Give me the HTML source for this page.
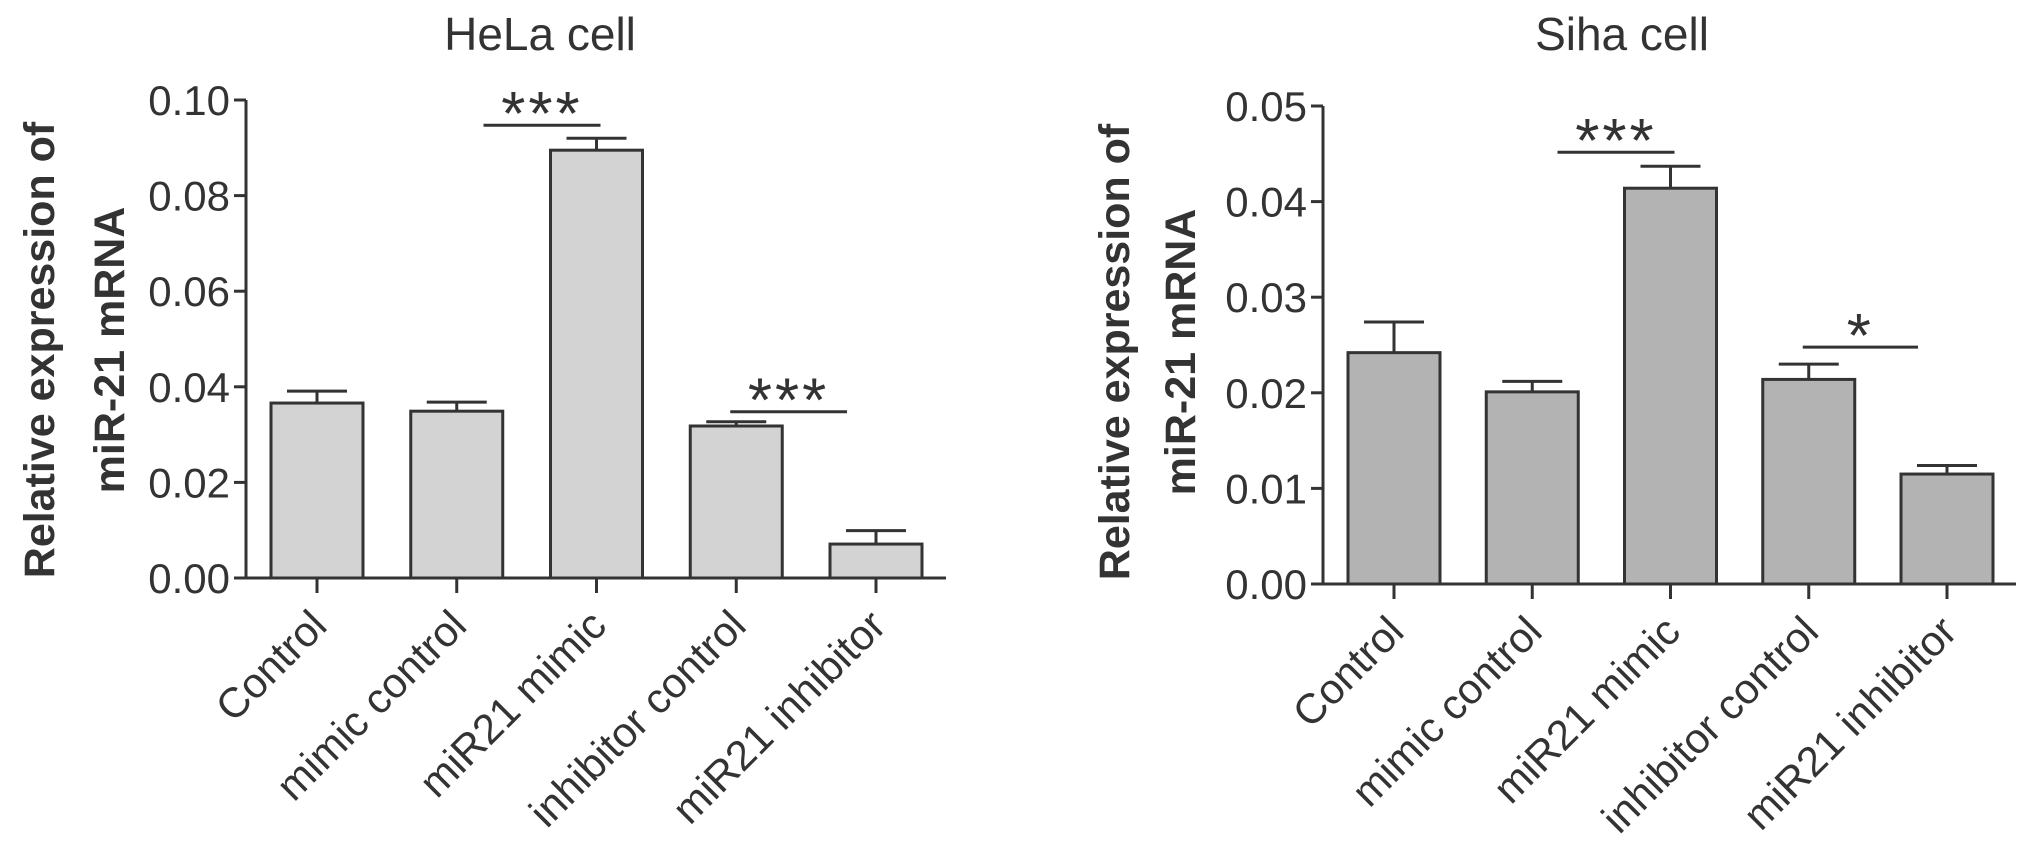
<!DOCTYPE html>
<html><head><meta charset="utf-8"><style>
html,body{margin:0;padding:0;background:#fff;}
svg{display:block;font-family:"Liberation Sans",Arial,sans-serif;}
</style></head><body>
<svg id="c" width="2031" height="862" viewBox="0 0 2031 862" xmlns="http://www.w3.org/2000/svg"></svg>
<script>
const categories = ["Control","mimic control","miR21 mimic","inhibitor control","miR21 inhibitor"];
const helaValues = [0.0366,0.0349,0.0895,0.0318,0.0071];
const helaErrors = [0.0391,0.0368,0.0920,0.0327,0.0099];
const helaTicks = ["0.00","0.02","0.04","0.06","0.08","0.10"];
const sihaValues = [0.0242,0.0201,0.0414,0.0214,0.0115];
const sihaErrors = [0.0274,0.0212,0.0437,0.0230,0.0124];
const sihaTicks = ["0.00","0.01","0.02","0.03","0.04","0.05"];
const helaSig = [[2,2,"***"],[3,4,"***"]];
const sihaSig = [[2,2,"***"],[3,4,"*"]];

const NS="http://www.w3.org/2000/svg";
const svg=document.getElementById('c');
const INK="#333";
function mk(tag,attrs,parent){const e=document.createElementNS(NS,tag);for(const k in attrs)e.setAttribute(k,attrs[k]);(parent||svg).appendChild(e);return e;}

function chart(cfg){
  const g=mk('g',{});
  
  
  const yMax=parseFloat(cfg.ticks[cfg.ticks.length-1]);
  const y=v=>cfg.y0-(v/yMax)*(cfg.y0-cfg.y1);
  const x=i=>cfg.xFirst+i*cfg.pitch;
  const t=mk('text',{x:cfg.titleX,y:50,'text-anchor':'middle','font-size':46,fill:INK},g);
  t.textContent=cfg.title;
  
  
  const yt=mk('text',{transform:`translate(${cfg.ytX},${cfg.ytY}) rotate(-90)`,'text-anchor':'middle','font-size':43,'font-weight':'bold',fill:INK},g);
  
  
  const l1=mk('tspan',{x:0,dy:0},yt);l1.textContent="Relative expression of";
  const l2=mk('tspan',{x:0,dy:cfg.ytDy},yt);l2.textContent="miR-21 mRNA";
  cfg.values.forEach((v,i)=>{
    const cx=x(i),w=92;
    const ex=mk('line',{x1:cx,x2:cx,y1:y(v),y2:y(cfg.errors[i]),stroke:INK,'stroke-width':3},g);
    
    
    const cap=mk('line',{x1:cx-30,x2:cx+30,y1:y(cfg.errors[i]),y2:y(cfg.errors[i]),stroke:INK,'stroke-width':3},g);
    
    
    const r=mk('rect',{x:cx-w/2,y:y(v),width:w,height:cfg.y0-y(v),fill:cfg.fill,stroke:INK,'stroke-width':3},g);
    
    
    const tk=mk('line',{x1:cx,x2:cx,y1:cfg.y0,y2:cfg.y0+15,stroke:INK,'stroke-width':3},g);
    
    
    const lb=mk('text',{transform:`translate(${cx+12},${cfg.y0+50}) rotate(-45)`,'text-anchor':'end','font-size':42,fill:INK},g);
    lb.textContent=categories[i];
    
    
  });
  const ya=mk('line',{x1:cfg.ax,x2:cfg.ax,y1:cfg.y1,y2:cfg.y0,stroke:INK,'stroke-width':3},g);
  
  
  const xa=mk('line',{x1:cfg.ax-12,x2:cfg.axEnd,y1:cfg.y0,y2:cfg.y0,stroke:INK,'stroke-width':3},g);
  
  
  cfg.ticks.forEach(s=>{
    const v=parseFloat(s),yy=y(v);
    const tl=mk('line',{x1:cfg.ax-12,x2:cfg.ax,y1:yy,y2:yy,stroke:INK,'stroke-width':3},g);
    
    
    const tx=mk('text',{x:cfg.ax-16,y:yy+15,'text-anchor':'end','font-size':42,fill:INK},g);
    tx.textContent=s;
    
    
  });
  cfg.sig.forEach(([a,b,s],k)=>{
    const top=Math.max(cfg.errors[a],cfg.errors[b]);
    const yy=y(top)-cfg.sigGap[k];
    const x1=(a===b)?x(a)-113:x(a)-6, x2=(a===b)?x(a)+4:x(b)-29;
    const ln=mk('line',{x1:x1,x2:x2,y1:yy,y2:yy,stroke:INK,'stroke-width':3},g);
    
    
    const st=mk('text',{x:(x1+x2)/2,y:yy+10,'text-anchor':'middle','font-size':62,fill:INK,'letter-spacing':'3'},g);
    st.textContent=s;
    
    
  });
}

chart({name:'hela-chart',title:'HeLa cell',titleX:540,ytX:54,ytY:350,ytDy:70,ax:246,axEnd:946,y0:578,y1:100,
  xFirst:317,pitch:139.75,fill:'#d3d3d3',values:helaValues,errors:helaErrors,ticks:helaTicks,sig:helaSig,sigGap:[13,10]});
chart({name:'siha-chart',title:'Siha cell',titleX:1622,ytX:1129,ytY:352,ytDy:66,ax:1323,axEnd:2016,y0:584,y1:106,
  xFirst:1394,pitch:138.25,fill:'#b3b3b3',values:sihaValues,errors:sihaErrors,ticks:sihaTicks,sig:sihaSig,sigGap:[14,17]});
</script>
</body></html>
